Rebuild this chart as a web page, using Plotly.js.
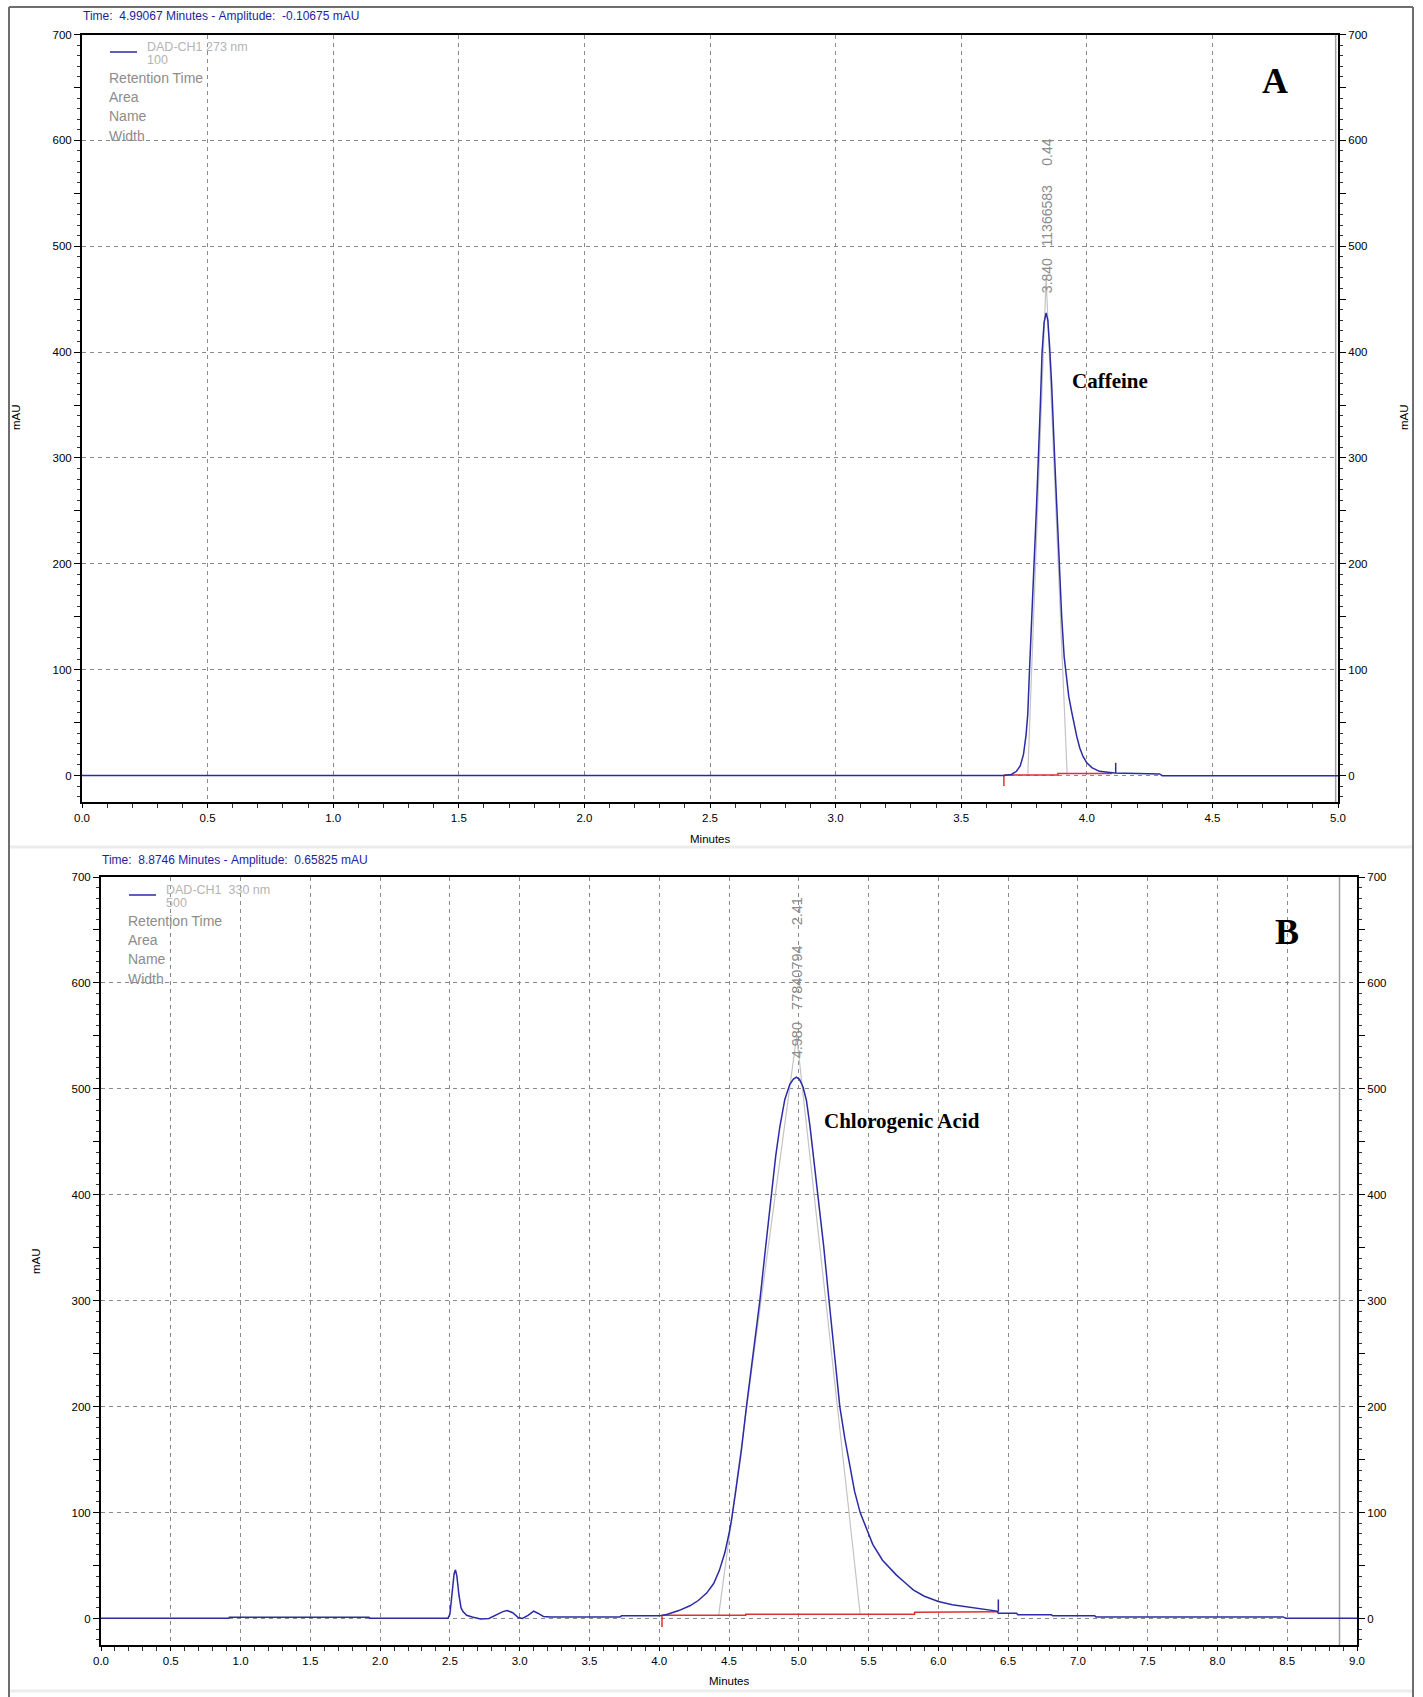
<!DOCTYPE html>
<html><head><meta charset="utf-8">
<script src="https://cdn.plot.ly/plotly-3.0.1.min.js"></script>
<style>html,body{margin:0;padding:0;background:#fff;}</style>
</head><body><div id="chart" style="width:1423px;height:1697px;"></div>
<script>
// ---------- Panel A : Caffeine (DAD-CH1 273 nm) ----------
const caffeineTime = [0, 3.67, 3.70, 3.72, 3.735, 3.748, 3.758, 3.765, 3.772, 3.78, 3.79, 3.80, 3.808, 3.815, 3.822, 3.83, 3.838, 3.845, 3.852, 3.86, 3.872, 3.882, 3.89, 3.90, 3.91, 3.916, 3.928, 3.94, 3.95, 3.96, 3.972, 3.985, 4.00, 4.02, 4.05, 4.08, 4.11, 4.20, 4.29, 4.30, 5.0];
const caffeineAmp  = [0, 0, 1, 4, 9, 20, 38, 58, 100, 140, 200, 255, 300, 350, 400, 428, 437, 430, 405, 370, 300, 245, 200, 150, 112, 100, 75, 60, 47, 37, 26, 18, 12, 7.5, 4, 3, 2.5, 2, 1.5, -0.1, -0.1];
const caffeineBaseTime = [3.67, 3.885, 3.885, 4.10];
const caffeineBaseAmp  = [0.5, 0.5, 2, 2];
const caffeineStartTickTime = [3.67, 3.67];
const caffeineStartTickAmp  = [0.5, -10];
const caffeineEndTickTime = [4.115, 4.115];
const caffeineEndTickAmp  = [2, 12];
const caffeineTangentTime = [3.765, 3.838, 3.922];
const caffeineTangentAmp  = [0, 470, 0];
const cursorATime = 4.99067;

// ---------- Panel B : Chlorogenic acid (DAD-CH1 330 nm) ----------
const chloroTime = [0, 0.915, 0.92, 1.92, 1.925, 2.486, 2.50, 2.515, 2.53, 2.54, 2.55, 2.565, 2.58, 2.594, 2.62, 2.66, 2.72, 2.78, 2.83, 2.88, 2.91, 2.95, 2.99, 3.02, 3.06, 3.10, 3.13, 3.17, 3.22, 3.72, 3.73, 4.00, 4.06, 4.14, 4.22, 4.28, 4.34, 4.39, 4.43, 4.47, 4.50, 4.518, 4.55, 4.59, 4.625, 4.672, 4.721, 4.762, 4.804, 4.835, 4.864, 4.90, 4.935, 4.96, 4.983, 5.005, 5.03, 5.055, 5.08, 5.11, 5.14, 5.178, 5.217, 5.255, 5.294, 5.33, 5.365, 5.40, 5.44, 5.48, 5.53, 5.60, 5.70, 5.76, 5.82, 5.90, 6.00, 6.10, 6.20, 6.31, 6.42, 6.43, 6.56, 6.57, 6.81, 6.82, 7.12, 7.13, 8.47, 8.49, 9.0];
const chloroAmp  = [0.2, 0.2, 1.2, 1.2, 0.3, 0.3, 4, 25, 42, 46, 40, 22, 10, 6.5, 3, 1.5, -0.5, 0, 3, 6.5, 7.5, 5.5, 1, 0, 3, 7, 5, 2, 1.5, 1.5, 2.5, 2.5, 4, 7.5, 12, 17, 24, 33, 45, 62, 80, 93, 122, 160, 200, 250, 300, 350, 401, 437, 464, 490, 504, 509, 511, 509, 502, 489, 465, 430, 397, 352, 300, 250, 200, 170, 143, 120, 100, 86, 70, 55, 41, 34, 27, 21, 16, 13, 11, 8.5, 7, 5, 5, 3.5, 3.5, 2.5, 2.5, 1.5, 1.5, 0.3, 0.3];
const chloroBaseTime = [4.02, 4.62, 4.62, 5.83, 5.83, 6.43];
const chloroBaseAmp  = [3, 3, 4, 4, 6, 6.5];
const chloroStartTickTime = [4.02, 4.02];
const chloroStartTickAmp  = [3, -8];
const chloroEndTickTime = [6.43, 6.43];
const chloroEndTickAmp  = [6.5, 18];
const chloroTangentTime = [4.426, 4.985, 5.44];
const chloroTangentAmp  = [3, 550, 4];
const cursorBTime = 8.8746;

const yRange = [-25, 700];
const yTickVals = [0, 50, 100, 150, 200, 250, 300, 350, 400, 450, 500, 550, 600, 650, 700];
const yTickText = ['0', '', '100', '', '200', '', '300', '', '400', '', '500', '', '600', '', '700'];

const W = 1423, H = 1697;
const px = v => v / W, py = v => 1 - v / H;

const blue = '#2b2ba6', red = '#e03030', grey = '#c4c4c4';
const tickFont = {family: 'Liberation Sans, Arial, sans-serif', size: 11.5, color: '#000'};

function line(x, y, xa, ya, color, width) {
  return {type: 'scatter', mode: 'lines', x: x, y: y, xaxis: xa, yaxis: ya,
          line: {color: color, width: width}, hoverinfo: 'skip'};
}
function holder(xa, ya) {
  return {type: 'scatter', mode: 'lines', x: [0], y: [null], xaxis: xa, yaxis: ya, hoverinfo: 'skip'};
}

const traces = [
  holder('x', 'y5'), holder('x', 'y3'),
  holder('x2', 'y6'), holder('x2', 'y4'),
  line(caffeineTangentTime, caffeineTangentAmp, 'x', 'y', grey, 1.2),
  line([cursorATime, cursorATime], yRange, 'x', 'y', '#a0a0a0', 1.5),
  line(caffeineBaseTime, caffeineBaseAmp, 'x', 'y', red, 1.5),
  line(caffeineStartTickTime, caffeineStartTickAmp, 'x', 'y', red, 1.5),
  line(caffeineTime, caffeineAmp, 'x', 'y', blue, 1.5),
  line(caffeineEndTickTime, caffeineEndTickAmp, 'x', 'y', blue, 1.5),

  line(chloroTangentTime, chloroTangentAmp, 'x2', 'y2', grey, 1.2),
  line([cursorBTime, cursorBTime], yRange, 'x2', 'y2', '#a0a0a0', 1.5),
  line(chloroBaseTime, chloroBaseAmp, 'x2', 'y2', red, 1.5),
  line(chloroStartTickTime, chloroStartTickAmp, 'x2', 'y2', red, 1.5),
  line(chloroTime, chloroAmp, 'x2', 'y2', blue, 1.5),
  line(chloroEndTickTime, chloroEndTickAmp, 'x2', 'y2', blue, 1.5)
];

function xAxis(domain, anchor, range) {
  return {domain: domain, anchor: anchor, range: range, dtick: 0.5, tick0: 0, tickformat: '.1f',
          showline: true, linecolor: '#000', linewidth: 2, mirror: true,
          ticks: 'outside', ticklen: 4, tickcolor: '#000', tickfont: tickFont,
          minor: {dtick: 0.1, ticklen: 4, ticks: 'outside', tickcolor: '#333', showgrid: false},
          showgrid: true, gridcolor: '#8a8a8a', griddash: '4px,4px', gridwidth: 1,
          zeroline: false, fixedrange: true};
}
function yAxis(domain, anchor, side, overlay) {
  const a = {domain: domain, anchor: anchor, range: yRange, side: side,
          tickvals: yTickVals, ticktext: yTickText,
          showline: true, linecolor: '#000', linewidth: 2,
          ticks: 'outside', ticklen: 6, tickcolor: '#000', tickfont: tickFont,
          minor: {dtick: 10, tick0: 0, ticklen: 3, ticks: 'outside', tickcolor: '#333', showgrid: false},
          showgrid: false, zeroline: false, fixedrange: true};
  if (overlay) a.overlaying = overlay;
  return a;
}
function gridAxis(domain, anchor, overlay) {
  return {domain: domain, anchor: anchor, range: yRange, overlaying: overlay, side: 'left',
          dtick: 100, tick0: 0, showticklabels: false, ticks: '', showline: false,
          showgrid: true, gridcolor: '#8a8a8a', griddash: '4px,4px', gridwidth: 1,
          zeroline: false, fixedrange: true};
}

const domAx = [px(82), px(1338)], domAy = [py(802), py(34.5)];
const domBx = [px(101), px(1357)], domBy = [py(1645), py(877)];

const greyTxt = '#8c8c8c', lightTxt = '#b4b4b4', hdrBlue = '#1e1ea0';
const sans = 'Liberation Sans, Arial, sans-serif';
const serif = 'Liberation Serif, Times New Roman, serif';
const nb = s => s.replace(/ /g, '\u00a0');

function pAnn(text, x, y, opts) {
  return Object.assign({text: text, x: px(x), y: py(y), xref: 'paper', yref: 'paper',
    showarrow: false, xanchor: 'left', yanchor: 'middle',
    font: {family: sans, size: 13, color: greyTxt}}, opts || {});
}
function legendAnns(dx, dy, channel, scale) {
  return [
    pAnn(nb(channel), 145 + dx, 47 + dy, {font: {family: sans, size: 12.5, color: lightTxt}}),
    pAnn(scale, 145 + dx, 60 + dy, {font: {family: sans, size: 12.5, color: lightTxt}}),
    pAnn('Retention Time', 107 + dx, 78 + dy, {font: {family: sans, size: 14, color: greyTxt}}),
    pAnn('Area', 107 + dx, 97 + dy, {font: {family: sans, size: 14, color: greyTxt}}),
    pAnn('Name', 107 + dx, 116 + dy, {font: {family: sans, size: 14, color: greyTxt}}),
    pAnn('Width', 107 + dx, 136 + dy, {font: {family: sans, size: 14, color: greyTxt}})
  ];
}

const annotations = [
  pAnn(nb('Time:  4.99067 Minutes - Amplitude:  -0.10675 mAU'), 81, 16, {font: {family: sans, size: 12, color: hdrBlue}}),
  pAnn(nb('Time:  8.8746 Minutes - Amplitude:  0.65825 mAU'), 100, 860, {font: {family: sans, size: 12, color: hdrBlue}}),
  ...legendAnns(0, 0, 'DAD-CH1 273 nm', '100'),
  ...legendAnns(19, 843, 'DAD-CH1  330 nm', '500'),
  pAnn('Minutes', 710, 839, {xanchor: 'center', font: {family: sans, size: 11.5, color: '#000'}}),
  pAnn('Minutes', 729, 1681, {xanchor: 'center', font: {family: sans, size: 11.5, color: '#000'}}),
  pAnn('mAU', 16, 417, {xanchor: 'center', textangle: -90, font: {family: sans, size: 11.5, color: '#000'}}),
  pAnn('mAU', 1404, 417, {xanchor: 'center', textangle: -90, font: {family: sans, size: 11.5, color: '#000'}}),
  pAnn('mAU', 36, 1261, {xanchor: 'center', textangle: -90, font: {family: sans, size: 11.5, color: '#000'}}),
  // panel letters
  {text: '<b>A</b>', x: 4.751, y: 656, xref: 'x', yref: 'y', showarrow: false, xanchor: 'center', yanchor: 'middle',
   font: {family: serif, size: 36, color: '#000'}},
  {text: '<b>B</b>', x: 8.496, y: 648, xref: 'x2', yref: 'y2', showarrow: false, xanchor: 'center', yanchor: 'middle',
   font: {family: serif, size: 36, color: '#000'}},
  // compound names
  {text: '<b>Caffeine</b>', x: 3.935, y: 373, xref: 'x', yref: 'y', showarrow: false, xanchor: 'left', yanchor: 'middle',
   font: {family: serif, size: 21, color: '#000'}},
  {text: '<b>Chlorogenic Acid</b>', x: 5.165, y: 470, xref: 'x2', yref: 'y2', showarrow: false, xanchor: 'left', yanchor: 'middle',
   font: {family: serif, size: 21, color: '#000'}},
  // peak labels
  {text: nb('3.840   11366583     0.44'), x: 3.840, y: 529, xref: 'x', yref: 'y', showarrow: false, textangle: -90,
   xanchor: 'center', yanchor: 'middle', font: {family: sans, size: 14, color: greyTxt}},
  {text: nb('4.980   77840794     2.41'), x: 4.985, y: 605, xref: 'x2', yref: 'y2', showarrow: false, textangle: -90,
   xanchor: 'center', yanchor: 'middle', font: {family: sans, size: 14.5, color: greyTxt}}
];

const frame = '#6e6e6e';
const shapes = [
  {type: 'line', xref: 'paper', yref: 'paper', x0: px(9), x1: px(1413), y0: py(7), y1: py(7), line: {color: frame, width: 2}},
  {type: 'line', xref: 'paper', yref: 'paper', x0: px(9), x1: px(9), y0: py(7), y1: py(1697), line: {color: frame, width: 2}},
  {type: 'line', xref: 'paper', yref: 'paper', x0: px(1413), x1: px(1413), y0: py(7), y1: py(1697), line: {color: frame, width: 2}},
  {type: 'line', xref: 'paper', yref: 'paper', x0: px(10), x1: px(1412), y0: py(847), y1: py(847), line: {color: '#ececec', width: 3}},
  {type: 'line', xref: 'paper', yref: 'paper', x0: px(10), x1: px(1412), y0: py(1691), y1: py(1691), line: {color: '#ececec', width: 3}},
  // legend swatches
  {type: 'line', xref: 'paper', yref: 'paper', x0: px(110), x1: px(137), y0: py(52), y1: py(52), line: {color: blue, width: 1.5}},
  {type: 'line', xref: 'paper', yref: 'paper', x0: px(129), x1: px(156), y0: py(895), y1: py(895), line: {color: blue, width: 1.5}}
];

const layout = {
  width: W, height: H, margin: {l: 0, r: 0, t: 0, b: 0, pad: 0},
  paper_bgcolor: '#fff', plot_bgcolor: '#fff', showlegend: false, hovermode: false,
  xaxis: xAxis(domAx, 'y', [0, 5]),
  yaxis: yAxis(domAy, 'x', 'left'),
  yaxis3: yAxis(domAy, 'x', 'right', 'y'),
  yaxis5: gridAxis(domAy, 'x', 'y'),
  xaxis2: xAxis(domBx, 'y2', [0, 9]),
  yaxis2: yAxis(domBy, 'x2', 'left'),
  yaxis4: yAxis(domBy, 'x2', 'right', 'y2'),
  yaxis6: gridAxis(domBy, 'x2', 'y2'),
  annotations: annotations,
  shapes: shapes
};

Plotly.newPlot('chart', traces, layout, {staticPlot: true, displayModeBar: false});
</script></body></html>
